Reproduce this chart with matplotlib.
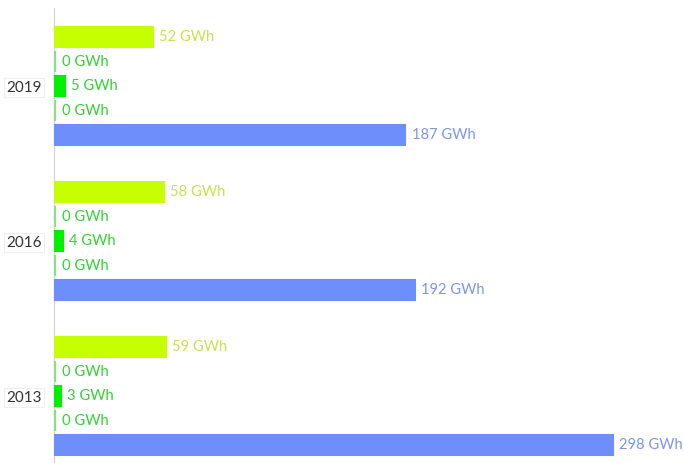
import matplotlib.pyplot as plt
import numpy as np

years = ["2019", "2016", "2013"]
series_a = [52, 58, 59]
series_b = [0, 0, 0]
series_c = [5, 4, 3]
series_d = [0, 0, 0]
series_e = [187, 192, 298]

series = [series_a, series_b, series_c, series_d, series_e]
bar_colors = ["#c6ff00", "#84e284", "#00f000", "#84e284", "#6e8ffb"]
label_colors = ["#c8e24c", "#33d133", "#33d133", "#33d133", "#7d95ef"]

plt.rcParams['font.family'] = ['Lato', 'DejaVu Sans']

fig = plt.figure(figsize=(6.84, 4.63), dpi=100)
ax = fig.add_axes([54 / 684, 0, 630 / 684, 455 / 463])

group_step = 155 / 24.5
for j, vals in enumerate(series):
    ypos = np.arange(len(years)) * group_step + j
    bars = ax.barh(ypos, vals, height=0.84, color=bar_colors[j],
                   edgecolor=bar_colors[j], linewidth=1.5, zorder=3)
    for b in bars:
        b.set_clip_on(False)
    for y, v in zip(ypos, vals):
        ax.text(v + 3.5, y, f"{v} GWh", color=label_colors[j],
                va="center", ha="left", fontsize=10.6)

ax.set_xlim(-0.7, 336)
ax.set_ylim(16.65 + 18 / 24.5, -29 / 24.5)

ax.set_yticks(np.arange(len(years)) * group_step + 2)
ax.set_yticklabels(years)
ax.tick_params(axis="y", length=0, pad=9, labelsize=11, labelcolor="#333333")
for lab in ax.get_yticklabels():
    lab.set_bbox(dict(facecolor="white", edgecolor="#ececec", linewidth=0.6,
                      boxstyle="square,pad=0.15"))
ax.set_xticks([])

for side in ["top", "right", "bottom"]:
    ax.spines[side].set_visible(False)
ax.spines["left"].set_color("#d0d0d0")

fig.savefig("out.png", dpi=100)
